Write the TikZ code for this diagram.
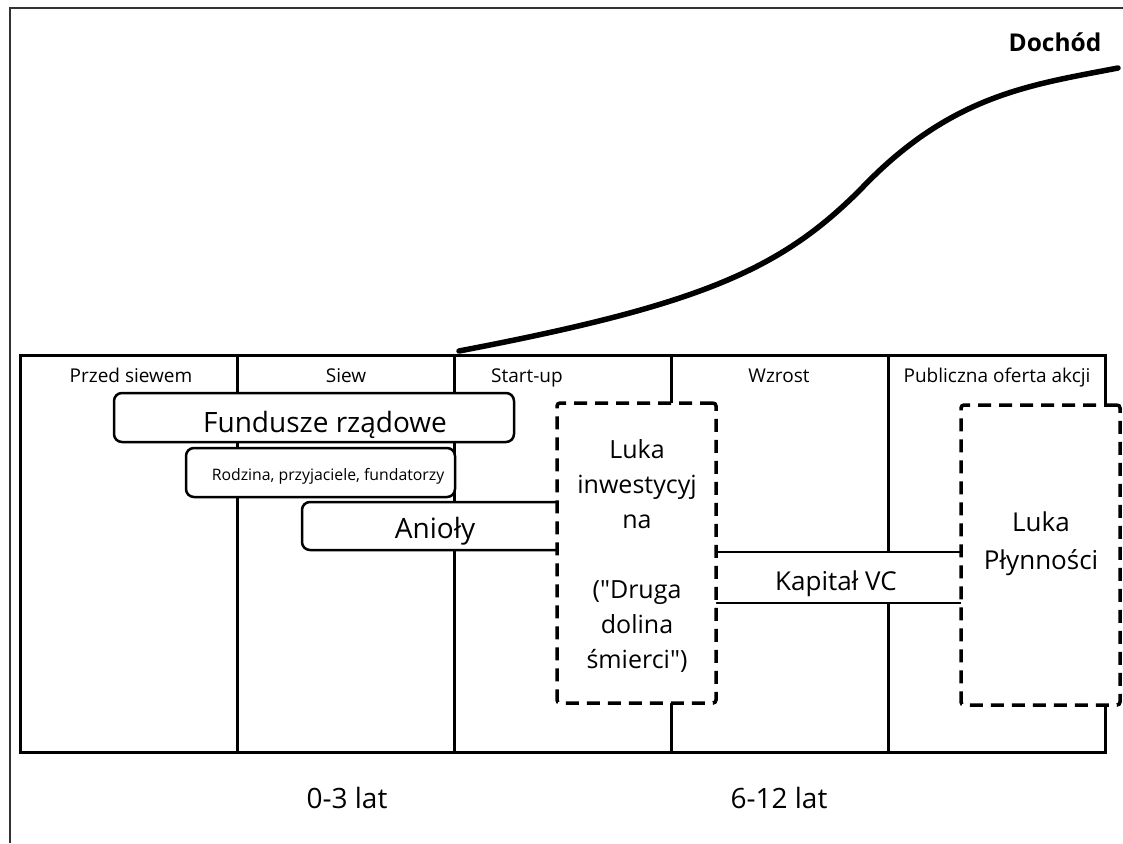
\documentclass[tikz,border=0pt]{standalone}
\usepackage{fontspec}
\setmainfont{Open Sans}[Ligatures=TeXOff]
\begin{document}
\begin{tikzpicture}
[x=1pt, y=-1pt,
 cell/.style={draw, line width=3pt, minimum width=217pt, minimum height=397pt, inner sep=0pt},
 fundbox/.style={draw, fill=white, line width=2.5pt, rounded corners=8pt, inner sep=0pt},
 vcbox/.style={draw, fill=white, line width=2.5pt, inner sep=0pt},
 gapbox/.style={draw, fill=white, line width=3.5pt, dash pattern=on 13pt off 8pt, rounded corners=3pt,
   minimum width=159pt, minimum height=300pt, inner sep=0pt},
 headtext/.style={anchor=base, inner sep=0pt, font=\fontsize{19}{22}\selectfont},
 bigtext/.style={anchor=base, inner sep=0pt, font=\fontsize{28}{32}\selectfont},
 midtext/.style={anchor=base, inner sep=0pt, font=\fontsize{26}{30}\selectfont},
 smalltext/.style={anchor=base, inner sep=0pt, font=\fontsize{15.8}{18}\selectfont}]
\useasboundingbox (0,0) rectangle (1123,843);
\draw[line width=2pt, black!80] (10,843) -- (10,8) -- (1123,8);

% stages
\node[cell] (Przed) at (128.5,553.5) {};
\node[cell] (Siew) at (345.5,553.5) {};
\node[cell] (StartUp) at (562.5,553.5) {};
\node[cell] (Wzrost) at (779.5,553.5) {};
\node[cell] (Oferta) at (996.5,553.5) {};
\node[headtext] (PrzedTxt) at (131,382) {Przed siewem};
\node[headtext] (SiewTxt) at (346,382) {Siew};
\node[headtext] (StartUpTxt) at (527,382) {Start-up};
\node[headtext] (WzrostTxt) at (779,382) {Wzrost};
\node[headtext] (OfertaTxt) at (997,382) {Publiczna oferta akcji};

% revenue curve
\draw[line width=5.5pt, line cap=round] (459,351) .. controls (700,305) and (780,270) .. (860,190)
  .. controls (950,95) and (1030,85) .. (1118,68);
\node[anchor=base, inner sep=0pt, font=\fontsize{24.5}{28}\selectfont\bfseries] (Dochod) at (1055,52) {Dochód};

% sources of funding
\node[fundbox, minimum width=400pt, minimum height=49pt] (Fundusze) at (314,417.5) {};
\node[bigtext] (FunduszeTxt) at (325,432) {Fundusze rządowe};
\node[fundbox, minimum width=269pt, minimum height=49pt] (Rodzina) at (320.5,472.5) {};
\node[smalltext] (RodzinaTxt) at (328,480) {Rodzina, przyjaciele, fundatorzy};
\node[fundbox, minimum width=266pt, minimum height=48pt] (Anioly) at (435,526) {};
\node[bigtext] (AniolyTxt) at (435,538) {Anioły};
\node[vcbox, minimum width=275pt, minimum height=51pt] (Kapital) at (837.5,577.5) {};
\node[midtext] (KapitalTxt) at (836,590) {Kapitał VC};

% gaps
\node[gapbox] (LukaInw) at (636.5,553) {};
\node[align=center, inner sep=0pt, font=\fontsize{25}{35}\selectfont] (LukaInwTxt) at (637,555.5)
  {Luka\\inwestycyj\\na\\ \\("Druga\\dolina\\śmierci")};
\node[gapbox] (LukaPlyn) at (1040.5,555) {};
\node[align=center, inner sep=0pt, font=\fontsize{26}{38}\selectfont] (LukaPlynTxt) at (1041,544)
  {Luka\\Płynności};

% years
\node[bigtext] (Lata03) at (347,808) {0-3 lat};
\node[bigtext] (Lata612) at (779,808) {6-12 lat};
\end{tikzpicture}
\end{document}
